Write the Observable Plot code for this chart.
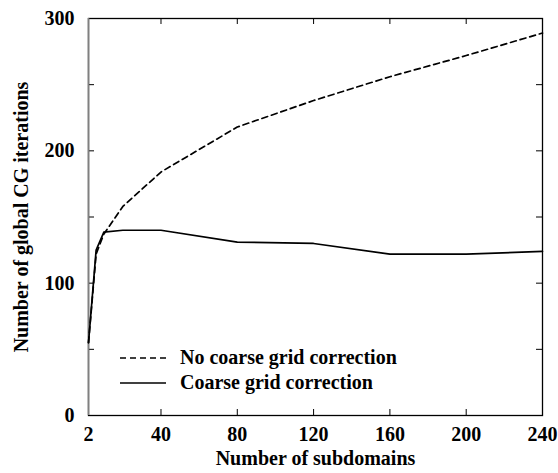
<!DOCTYPE html>
<html>
<head>
<meta charset="utf-8">
<script src="https://cdn.jsdelivr.net/npm/d3@7"></script>
<script src="https://cdn.jsdelivr.net/npm/@observablehq/plot@0.6"></script>
<style>
  body { margin: 0; background: #fff; }
  #chart { position: relative; width: 558px; height: 473px; font-family: "Liberation Serif", "Times New Roman", serif; font-weight: bold; }
  #legend { position: absolute; left: 120px; top: 345px; font-size: 20px; line-height: 25px; }
  #legend .row { display: flex; align-items: center; }
  #legend svg { margin-right: 14px; }
</style>
</head>
<body>
<div id="chart"><div id="legend"></div></div>
<script>
// Number of subdomains
const subdomains = [2, 6, 10, 20, 40, 80, 120, 160, 200, 240];
// Global CG iterations without / with the coarse grid correction
const noCoarse = [55, 122, 137, 158, 184, 218, 238, 256, 272, 289];
const coarse   = [55, 125, 138.5, 140, 140, 131, 130, 122, 122, 124];

const xTicks = [2, 40, 80, 120, 160, 200, 240];
const yTicks = [0, 100, 200, 300];
const yMinor = [0, 50, 100, 150, 200, 250, 300];

const series = [
  {name: "No coarse grid correction", values: noCoarse, dash: "6,4"},
  {name: "Coarse grid correction", values: coarse, dash: null}
];

const rows = series.flatMap(s => subdomains.map((x, i) => ({x, y: s.values[i], name: s.name})));

// plot area geometry
const W = 558, H = 473, mL = 88, mR = 16, mT = 18, mB = 58;
const frameW = W - mL - mR, frameH = H - mT - mB, tick = 6;

const chart = Plot.plot({
  width: W,
  height: H,
  marginLeft: mL,
  marginRight: mR,
  marginTop: mT,
  marginBottom: mB,
  style: {fontFamily: "'Liberation Serif', 'Times New Roman', serif", fontWeight: "bold", fontSize: "20px", color: "#000", background: "#fff"},
  x: {domain: [2, 240]},
  y: {domain: [0, 300]},
  marks: [
    // tick labels and axis titles
    Plot.axisX(xTicks, {anchor: "bottom", tickSize: 0, tickPadding: 11, fontSize: 20, label: "Number of subdomains", labelAnchor: "center", labelArrow: "none", labelOffset: 49}),
    Plot.axisY(yTicks, {anchor: "left", tickSize: 0, tickPadding: 14, fontSize: 20, label: "Number of global CG iterations", labelAnchor: "center", labelArrow: "none", labelOffset: 75}),
    // inward tick marks on all four sides
    Plot.gridX(xTicks, {stroke: "#000", strokeOpacity: 1, insetTop: frameH - tick}),
    Plot.gridX(xTicks, {stroke: "#000", strokeOpacity: 1, insetBottom: frameH - tick}),
    Plot.gridY(yMinor, {stroke: "#000", strokeOpacity: 1, insetRight: frameW - tick}),
    Plot.gridY(yMinor, {stroke: "#000", strokeOpacity: 1, insetLeft: frameW - tick}),
    Plot.frame({stroke: "#000", strokeWidth: 1.3}),
    Plot.ruleX([2], {stroke: "#808080", strokeWidth: 1.6}),
    ...series.map(s => Plot.line(rows.filter(d => d.name === s.name), {
      x: "x", y: "y", stroke: "#000", strokeWidth: 1.7, strokeDasharray: s.dash
    }))
  ]
});

const root = document.getElementById("chart");
root.insertBefore(chart, root.firstChild);

// legend inside the plot area
const legend = document.getElementById("legend");
for (const s of series) {
  const row = document.createElement("div");
  row.className = "row";
  row.innerHTML = `<svg width="46" height="4"><line x1="0" y1="2" x2="46" y2="2" stroke="#000" stroke-width="1.7" ${s.dash ? `stroke-dasharray="${s.dash}"` : ""}/></svg><span>${s.name}</span>`;
  legend.appendChild(row);
}
</script>
</body>
</html>
